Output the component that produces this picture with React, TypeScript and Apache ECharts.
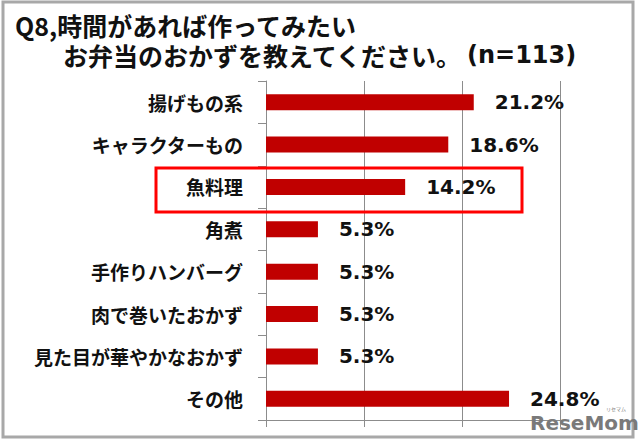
import React, { useEffect, useRef } from "react";
import * as echarts from "echarts";

const categories = [
  "揚げもの系",
  "キャラクターもの",
  "魚料理",
  "角煮",
  "手作りハンバーグ",
  "肉で巻いたおかず",
  "見た目が華やかなおかず",
  "その他",
];
const values = [21.2, 18.6, 14.2, 5.3, 5.3, 5.3, 5.3, 24.8];
const titleLine1 = "Q8,時間があれば作ってみたい";
const titleLine2 = "お弁当のおかずを教えてください。";
const titleSample = "(n=113)";

export default function App() {
  const ref = useRef<HTMLDivElement>(null);
  useEffect(() => {
    document.body.style.margin = "0";
    const chart = echarts.init(ref.current!, null, { renderer: "svg" });
    const jp = '"Noto Sans CJK JP", "Noto Sans", sans-serif';
    chart.setOption({
      animation: false,
      backgroundColor: "#ffffff",
      grid: { left: 266, right: 80, top: 81, bottom: 25, containLabel: false },
      xAxis: {
        type: "value",
        min: 0,
        max: 30,
        interval: 10,
        axisLine: { show: true, lineStyle: { color: "#8c8c8c", width: 1 } },
        axisTick: { show: true, length: 7, lineStyle: { color: "#8c8c8c" } },
        axisLabel: { show: false },
        splitLine: { show: true, lineStyle: { color: "#8c8c8c", width: 1 } },
      },
      yAxis: {
        type: "category",
        data: categories,
        inverse: true,
        axisLine: { show: true, lineStyle: { color: "#8c8c8c", width: 1 } },
        axisTick: { show: true, length: 8, lineStyle: { color: "#8c8c8c" } },
        axisLabel: {
          margin: 23,
          color: "#111111",
          fontFamily: jp,
          fontSize: 19,
          fontWeight: "bold",
        },
      },
      series: [
        {
          type: "bar",
          data: values,
          barWidth: 16,
          itemStyle: { color: "#c00000" },
          label: {
            show: true,
            position: "right",
            distance: 21,
            formatter: (p: any) => p.value.toFixed(1) + "%",
            color: "#111111",
            fontFamily: '"DejaVu Sans", Verdana, sans-serif',
            fontWeight: "bold",
            fontSize: 20,
          },
        },
      ],
      graphic: [
        {
          type: "rect",
          shape: { x: 3, y: 2, width: 630, height: 435 },
          style: { fill: "none", stroke: "#a8a8a8", lineWidth: 3 },
          z: 100,
        },
        {
          type: "text",
          x: 15,
          y: 10,
          style: {
            text:
              "{a|" + titleLine1 + "}\n{b|" + titleLine2 + "}{c|" + titleSample + "}",
            fill: "#111111",
            verticalAlign: "top",
            align: "left",
            rich: {
              a: {
                fontFamily: jp,
                fontSize: 25,
                lineHeight: 30,
                fontWeight: "bold",
                fill: "#111111",
              },
              b: {
                fontFamily: jp,
                fontSize: 25,
                lineHeight: 30,
                fontWeight: "bold",
                fill: "#111111",
                padding: [0, 0, 0, 48],
              },
              c: {
                fontFamily: '"DejaVu Sans", Verdana, sans-serif',
                fontSize: 24,
                lineHeight: 30,
                fontWeight: "bold",
                fill: "#111111",
                padding: [0, 0, 0, 4],
              },
            },
          },
        },
        {
          type: "rect",
          shape: { x: 156, y: 168, width: 366, height: 44 },
          style: { fill: "none", stroke: "#ff0000", lineWidth: 3 },
          z: 100,
        },
        {
          type: "text",
          x: 530,
          y: 423,
          style: {
            text: "ReseMom",
            fontFamily: '"DejaVu Sans", sans-serif',
            fontSize: 20,
            lineHeight: 20,
            fontWeight: "bold",
            fill: "#7a7a7a",
            verticalAlign: "middle",
          },
          z: 101,
        },
        {
          type: "text",
          x: 606,
          y: 408,
          style: {
            text: "リセマム",
            fontFamily: jp,
            fontSize: 5,
            lineHeight: 5,
            fill: "#7a7a7a",
            verticalAlign: "middle",
          },
          z: 101,
        },
      ],
    });
    return () => chart.dispose();
  }, []);
  return <div ref={ref} style={{ width: 640, height: 445 }} />;
}
